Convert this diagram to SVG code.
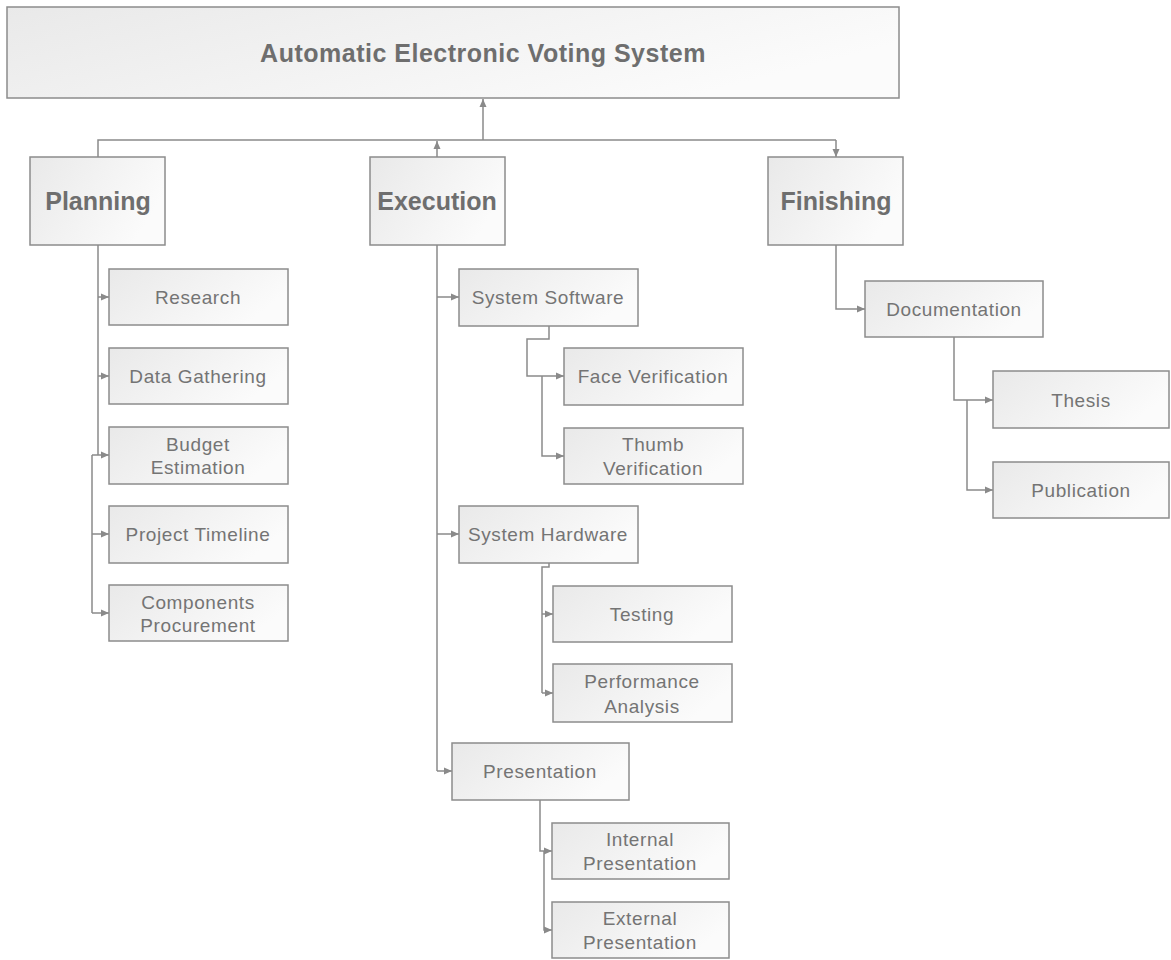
<svg xmlns="http://www.w3.org/2000/svg" width="1171" height="960" viewBox="0 0 1171 960">
  <defs>
    <linearGradient id="boxFill" x1="0" y1="0" x2="1" y2="0.4">
      <stop offset="0" stop-color="#e9e9e9"/>
      <stop offset="1" stop-color="#fbfbfb"/>
    </linearGradient>
    <marker id="arrow" markerUnits="userSpaceOnUse" markerWidth="8" markerHeight="8" refX="8" refY="4" orient="auto">
      <path d="M0,0.5 L8,4 L0,7.5 z" fill="#8a8a8a"/>
    </marker>
    <style>
      .box { fill: url(#boxFill); stroke: #8c8c8c; stroke-width: 1.5; }
      .title { font-family: "Liberation Sans", Arial, sans-serif; font-weight: bold; font-size: 25px; letter-spacing: 0.5px; fill: #6e6e6e; text-anchor: middle; dominant-baseline: central; }
      .head { font-family: "Liberation Sans", Arial, sans-serif; font-weight: bold; font-size: 25px; fill: #6e6e6e; text-anchor: middle; dominant-baseline: central; }
      .label { font-family: "Liberation Sans", Arial, sans-serif; font-size: 19px; letter-spacing: 0.6px; fill: #747474; text-anchor: middle; dominant-baseline: central; }
      .link { fill: none; stroke: #8a8a8a; stroke-width: 1.5; }
      .arr { marker-end: url(#arrow); }
    </style>
  </defs>
  <rect width="1171" height="960" fill="#ffffff"/>

  <!-- connectors -->
  <g id="connectors">
    <!-- top level -->
    <path class="link arr" d="M483 140 V99"/>
    <path class="link" d="M98 157 V140 H836"/>
    <path class="link arr" d="M437 157 V141"/>
    <path class="link arr" d="M836 140 V157"/>

    <!-- planning -->
    <path class="link" d="M98 245 V455"/>
    <path class="link arr" d="M98 297 H109"/>
    <path class="link arr" d="M98 376 H109"/>
    <path class="link arr" d="M92 455 H109"/>
    <path class="link" d="M92 455 V613"/>
    <path class="link arr" d="M92 534 H109"/>
    <path class="link arr" d="M92 613 H109"/>

    <!-- execution -->
    <path class="link" d="M437 245 V771"/>
    <path class="link arr" d="M437 297 H459"/>
    <path class="link arr" d="M437 534 H459"/>
    <path class="link arr" d="M437 771 H452"/>

    <path class="link arr" d="M549 326 V339 H527 V376 H564"/>
    <path class="link arr" d="M542 376 V456 H564"/>

    <path class="link" d="M549 563 V567 H542 V693"/>
    <path class="link arr" d="M542 614 H553"/>
    <path class="link arr" d="M542 693 H553"/>

    <path class="link arr" d="M540 800 V851 H552"/>
    <path class="link arr" d="M544 851 V930 H552"/>

    <!-- finishing -->
    <path class="link arr" d="M836 245 V309 H865"/>
    <path class="link arr" d="M954 337 V400 H993"/>
    <path class="link arr" d="M967 400 V490 H993"/>
  </g>

  <!-- nodes -->
  <g id="root">
    <rect class="box" x="7" y="7" width="892" height="91"/>
    <text class="title" x="483" y="53">Automatic Electronic Voting System</text>
  </g>

  <g id="planning">
    <rect class="box" x="30" y="157" width="135" height="88"/>
    <text class="head" x="98" y="201">Planning</text>
  </g>
  <g id="execution">
    <rect class="box" x="370" y="157" width="135" height="88"/>
    <text class="head" x="437" y="201">Execution</text>
  </g>
  <g id="finishing">
    <rect class="box" x="768" y="157" width="135" height="88"/>
    <text class="head" x="836" y="201">Finishing</text>
  </g>

  <g id="research">
    <rect class="box" x="109" y="269" width="179" height="56"/>
    <text class="label" x="198" y="297">Research</text>
  </g>
  <g id="data-gathering">
    <rect class="box" x="109" y="348" width="179" height="56"/>
    <text class="label" x="198" y="376">Data Gathering</text>
  </g>
  <g id="budget-estimation">
    <rect class="box" x="109" y="427" width="179" height="57"/>
    <text class="label" x="198" y="444">Budget</text>
    <text class="label" x="198" y="467">Estimation</text>
  </g>
  <g id="project-timeline">
    <rect class="box" x="109" y="506" width="179" height="57"/>
    <text class="label" x="198" y="534">Project Timeline</text>
  </g>
  <g id="components-procurement">
    <rect class="box" x="109" y="585" width="179" height="56"/>
    <text class="label" x="198" y="602">Components</text>
    <text class="label" x="198" y="625">Procurement</text>
  </g>

  <g id="system-software">
    <rect class="box" x="459" y="269" width="179" height="57"/>
    <text class="label" x="548" y="297">System Software</text>
  </g>
  <g id="face-verification">
    <rect class="box" x="564" y="348" width="179" height="57"/>
    <text class="label" x="653" y="376">Face Verification</text>
  </g>
  <g id="thumb-verification">
    <rect class="box" x="564" y="428" width="179" height="56"/>
    <text class="label" x="653" y="444">Thumb</text>
    <text class="label" x="653" y="468">Verification</text>
  </g>
  <g id="system-hardware">
    <rect class="box" x="459" y="506" width="179" height="57"/>
    <text class="label" x="548" y="534">System Hardware</text>
  </g>
  <g id="testing">
    <rect class="box" x="553" y="586" width="179" height="56"/>
    <text class="label" x="642" y="614">Testing</text>
  </g>
  <g id="performance-analysis">
    <rect class="box" x="553" y="664" width="179" height="58"/>
    <text class="label" x="642" y="681">Performance</text>
    <text class="label" x="642" y="706">Analysis</text>
  </g>
  <g id="presentation">
    <rect class="box" x="452" y="743" width="177" height="57"/>
    <text class="label" x="540" y="771">Presentation</text>
  </g>
  <g id="internal-presentation">
    <rect class="box" x="552" y="823" width="177" height="56"/>
    <text class="label" x="640" y="839">Internal</text>
    <text class="label" x="640" y="863">Presentation</text>
  </g>
  <g id="external-presentation">
    <rect class="box" x="552" y="902" width="177" height="56"/>
    <text class="label" x="640" y="918">External</text>
    <text class="label" x="640" y="942">Presentation</text>
  </g>

  <g id="documentation">
    <rect class="box" x="865" y="281" width="178" height="56"/>
    <text class="label" x="954" y="309">Documentation</text>
  </g>
  <g id="thesis">
    <rect class="box" x="993" y="371" width="176" height="57"/>
    <text class="label" x="1081" y="400">Thesis</text>
  </g>
  <g id="publication">
    <rect class="box" x="993" y="462" width="176" height="56"/>
    <text class="label" x="1081" y="490">Publication</text>
  </g>
</svg>
